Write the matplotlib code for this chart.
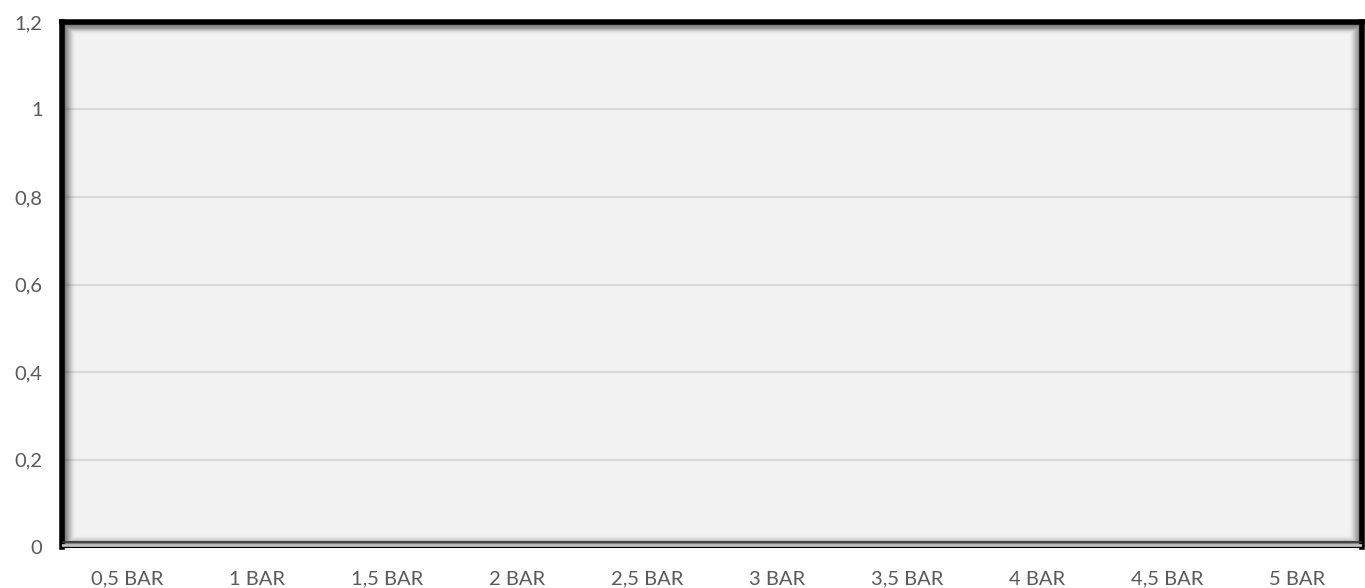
import numpy as np
import matplotlib.pyplot as plt
from matplotlib.patches import Rectangle

# chart data (the source chart has no plotted series)
categories = ["0,5 BAR", "1 BAR", "1,5 BAR", "2 BAR", "2,5 BAR",
              "3 BAR", "3,5 BAR", "4 BAR", "4,5 BAR", "5 BAR"]
values = [0, 0, 0, 0, 0, 0, 0, 0, 0, 0]
y_ticks = [0, 0.2, 0.4, 0.6, 0.8, 1.0, 1.2]
y_labels = ["0", "0,2", "0,4", "0,6", "0,8", "1", "1,2"]

plt.rcParams['font.family'] = ['Lato', 'DejaVu Sans']
text_color = "#595959"

fig = plt.figure(figsize=(13.65, 5.88), dpi=100)
ax = fig.add_axes([0.0454, 0.0697, 0.9524, 0.8929])
ax.set_facecolor("#f2f2f2")

x = np.arange(len(categories))
ax.bar(x, values, width=0.6, color="#4472c4")

ax.set_xlim(-0.5, len(categories) - 0.5)
ax.set_ylim(0, 1.2)
ax.set_xticks(x)
ax.set_xticklabels(categories)
ax.set_yticks(y_ticks)
ax.set_yticklabels(y_labels)
ax.tick_params(axis='both', length=0, labelsize=14.5, colors=text_color)
ax.tick_params(axis='x', pad=17)
ax.tick_params(axis='y', pad=14)

ax.grid(axis='y', color="#d9d9d9", linewidth=1.5)
ax.set_axisbelow(True)

# inner shadow along the frame
n = 12
for i in range(n):
    a = 0.22 * (1 - i / n) ** 1.6
    d = 0.002 + i * 0.0017
    ax.add_patch(Rectangle((d * 0.43, d), 1 - d * 0.86, 1 - 2 * d, transform=ax.transAxes,
                           fill=False, edgecolor="black", alpha=a, linewidth=2.5, zorder=3))

for side in ['left', 'top', 'right']:
    ax.spines[side].set_linewidth(4)
    ax.spines[side].set_color("black")
ax.spines['bottom'].set_linewidth(1.5)
ax.spines['bottom'].set_color("black")
ax.axhline(0.005, color="#bfbfbf", linewidth=2, zorder=4)
ax.axhline(0.011, color="#333333", linewidth=1.2, zorder=4)

fig.savefig("out.png", dpi=100)
